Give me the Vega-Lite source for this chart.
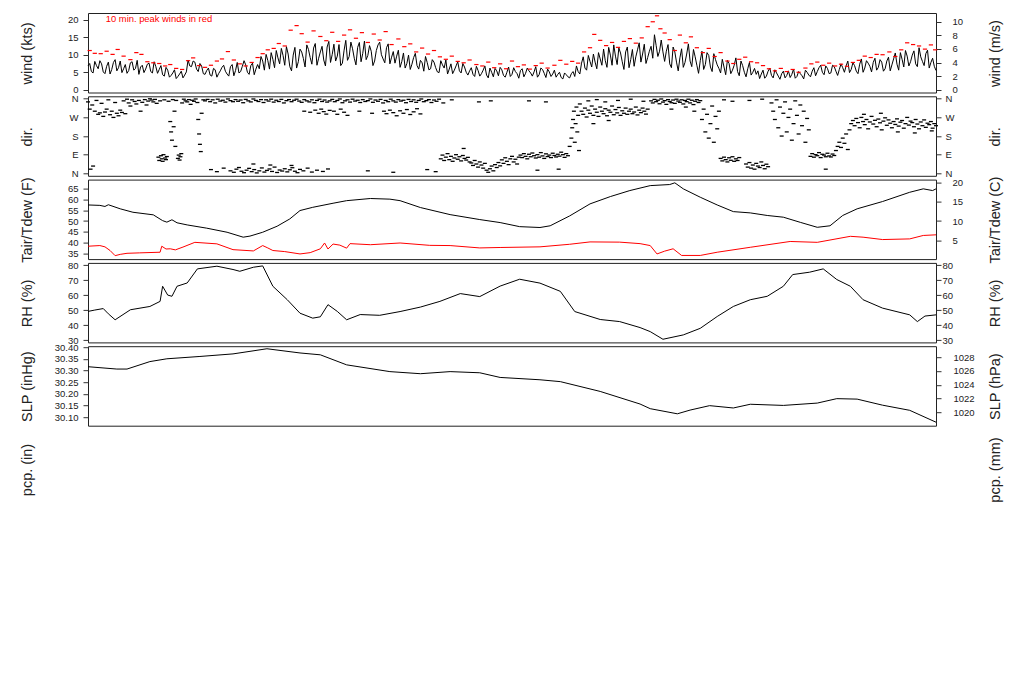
{
"$schema": "https://vega.github.io/schema/vega-lite/v6.json",
"background": "white",
"padding": {"left": 18, "top": 12, "right": 5, "bottom": 5},
"bounds": "flush",
"spacing": 3.3,
"config": {
 "view": {"stroke": "#222", "strokeWidth": 1},
 "axis": {"labelFont": "Liberation Sans", "labelFontSize": 9.5, "labelColor": "#222", "titleFont": "Liberation Sans", "titleFontSize": 14.5, "titleFontWeight": "normal", "titleColor": "#222", "tickColor": "#333", "tickSize": 5, "domain": false, "grid": false, "labelOverlap": false, "labelFlush": false, "titleAngle": 270, "titleBaseline": "middle", "titleAlign": "center", "titleY": 40},
 "axisLeft": {"titleX": -60.5, "labelPadding": 5},
 "axisRight": {"titleX": 59}
},
"datasets": {
"wind": [{"t":0,"v":6.8},{"t":4,"v":5.2},{"t":8,"v":8.1},{"t":12,"v":6.0},{"t":16,"v":7.4},{"t":20,"v":4.6},{"t":24,"v":7.9},{"t":28,"v":5.8},{"t":32,"v":8.6},{"t":36,"v":6.3},{"t":40,"v":4.9},{"t":44,"v":7.2},{"t":48,"v":5.5},{"t":52,"v":8.0},{"t":56,"v":6.1},{"t":60,"v":4.4},{"t":64,"v":7.0},{"t":68,"v":5.9},{"t":72,"v":7.6},{"t":76,"v":4.8},{"t":80,"v":6.6},
{"t":84,"v":5.8},{"t":88,"v":4.3},{"t":92,"v":6.4},{"t":96,"v":3.6},{"t":100,"v":4.8},{"t":104,"v":3.2},{"t":108,"v":4.5},{"t":112,"v":3.4},{"t":116,"v":5.1},{"t":120,"v":6.8},{"t":124,"v":8.2},{"t":128,"v":5.9},{"t":132,"v":7.5},{"t":136,"v":4.6},{"t":140,"v":5.5},
{"t":144,"v":4.2},{"t":148,"v":6.1},{"t":152,"v":3.6},{"t":156,"v":5.4},{"t":160,"v":7.0},{"t":164,"v":4.5},{"t":168,"v":6.6},{"t":172,"v":4.0},{"t":176,"v":7.8},{"t":180,"v":5.2},{"t":184,"v":8.3},{"t":188,"v":5.0},{"t":192,"v":6.9},{"t":196,"v":4.3},
{"t":200,"v":7.2},{"t":204,"v":9.5},{"t":208,"v":5.6},{"t":212,"v":8.4},{"t":216,"v":10.6},{"t":220,"v":6.3},{"t":224,"v":9.1},{"t":228,"v":11.8},{"t":232,"v":7.0},{"t":236,"v":10.2},{"t":240,"v":5.4},{"t":244,"v":12.1},{"t":248,"v":8.0},{"t":252,"v":10.8},{"t":256,"v":6.5},
{"t":260,"v":11.5},{"t":264,"v":7.3},{"t":268,"v":13.2},{"t":272,"v":9.0},{"t":276,"v":12.4},{"t":280,"v":6.8},{"t":284,"v":13.8},{"t":288,"v":10.1},{"t":292,"v":8.2},{"t":296,"v":12.9},{"t":300,"v":7.6},{"t":304,"v":14.1},{"t":308,"v":9.5},{"t":312,"v":11.7},{"t":316,"v":7.1},{"t":320,"v":13.5},{"t":324,"v":10.4},{"t":328,"v":8.6},{"t":332,"v":12.6},{"t":336,"v":6.9},{"t":340,"v":11.2},{"t":344,"v":13.6},{"t":348,"v":8.8},{"t":352,"v":12.0},{"t":356,"v":7.4},{"t":360,"v":10.9},
{"t":364,"v":9.6},{"t":368,"v":6.4},{"t":372,"v":10.5},{"t":376,"v":7.5},{"t":380,"v":5.8},{"t":384,"v":9.2},{"t":388,"v":6.9},{"t":392,"v":8.4},{"t":396,"v":5.3},{"t":400,"v":7.8},{"t":404,"v":6.0},
{"t":408,"v":7.9},{"t":412,"v":5.1},{"t":416,"v":8.3},{"t":420,"v":6.2},{"t":424,"v":4.5},{"t":428,"v":7.4},{"t":432,"v":5.6},{"t":436,"v":8.0},{"t":440,"v":4.8},{"t":444,"v":6.5},
{"t":448,"v":4.2},{"t":452,"v":6.3},{"t":456,"v":3.8},{"t":460,"v":5.5},{"t":464,"v":4.6},{"t":468,"v":6.8},{"t":472,"v":3.4},{"t":476,"v":5.0},{"t":480,"v":6.1},{"t":484,"v":4.0},{"t":488,"v":5.7},{"t":492,"v":3.6},{"t":496,"v":6.5},{"t":500,"v":4.4},{"t":504,"v":5.2},{"t":508,"v":3.3},{"t":512,"v":6.0},{"t":516,"v":4.7},{"t":520,"v":5.4},{"t":524,"v":3.9},{"t":528,"v":6.6},{"t":532,"v":4.3},{"t":536,"v":5.8},{"t":540,"v":3.5},{"t":544,"v":5.1},{"t":548,"v":4.5},
{"t":552,"v":3.6},{"t":556,"v":5.0},{"t":560,"v":3.1},{"t":564,"v":4.3},{"t":568,"v":3.4},{"t":572,"v":5.2},
{"t":576,"v":6.8},{"t":580,"v":4.5},{"t":584,"v":9.4},{"t":588,"v":5.6},{"t":592,"v":8.1},{"t":596,"v":10.2},{"t":600,"v":6.0},{"t":604,"v":8.8},
{"t":608,"v":11.6},{"t":612,"v":6.4},{"t":616,"v":9.9},{"t":620,"v":12.8},{"t":624,"v":7.2},{"t":628,"v":10.5},{"t":632,"v":5.8},{"t":636,"v":12.2},{"t":640,"v":8.6},{"t":644,"v":6.7},{"t":648,"v":11.4},{"t":652,"v":7.9},{"t":656,"v":13.0},{"t":660,"v":9.2},{"t":664,"v":12.4},
{"t":668,"v":15.7},{"t":672,"v":9.5},{"t":676,"v":14.2},
{"t":680,"v":8.1},{"t":684,"v":12.9},{"t":688,"v":6.3},{"t":692,"v":10.8},{"t":696,"v":5.4},{"t":700,"v":11.7},{"t":704,"v":7.8},{"t":708,"v":13.1},{"t":712,"v":6.6},{"t":716,"v":9.4},{"t":720,"v":4.7},{"t":724,"v":11.0},{"t":728,"v":7.2},{"t":732,"v":9.8},{"t":736,"v":5.2},{"t":740,"v":8.6},
{"t":744,"v":6.1},{"t":748,"v":8.7},{"t":752,"v":4.3},{"t":756,"v":7.5},{"t":760,"v":5.6},{"t":764,"v":9.1},{"t":768,"v":4.0},{"t":772,"v":6.9},{"t":776,"v":3.7},{"t":780,"v":7.8},{"t":784,"v":5.0},
{"t":788,"v":4.4},{"t":792,"v":3.2},{"t":796,"v":5.6},{"t":800,"v":3.9},{"t":804,"v":6.2},{"t":808,"v":3.4},{"t":812,"v":4.8},{"t":816,"v":3.0},{"t":820,"v":5.3},{"t":824,"v":4.1},{"t":828,"v":3.5},{"t":832,"v":5.9},{"t":836,"v":3.8},{"t":840,"v":4.6},{"t":844,"v":3.1},{"t":848,"v":5.0},{"t":852,"v":3.7},{"t":856,"v":6.3},
{"t":860,"v":5.2},{"t":864,"v":7.0},{"t":868,"v":4.3},{"t":872,"v":6.1},{"t":876,"v":4.8},{"t":880,"v":6.6},{"t":884,"v":4.1},
{"t":888,"v":7.4},{"t":892,"v":5.0},{"t":896,"v":8.2},{"t":900,"v":5.8},{"t":904,"v":6.9},{"t":908,"v":4.6},{"t":912,"v":8.8},{"t":916,"v":6.2},{"t":920,"v":7.6},{"t":924,"v":5.1},{"t":928,"v":9.0},{"t":932,"v":6.4},{"t":936,"v":7.9},
{"t":940,"v":6.0},{"t":944,"v":9.3},{"t":948,"v":7.1},{"t":952,"v":10.5},{"t":956,"v":5.6},{"t":960,"v":8.7},{"t":964,"v":11.2},{"t":968,"v":6.8},{"t":972,"v":9.9},{"t":976,"v":7.4},{"t":980,"v":12.0},{"t":984,"v":8.1},{"t":988,"v":10.3},{"t":992,"v":6.2},{"t":996,"v":9.0},{"t":1000,"v":5.5},
{"t":2,"v":7.5},{"t":6,"v":4.8},{"t":10,"v":6.9},{"t":14,"v":8.3},{"t":18,"v":5.1},{"t":22,"v":6.7},{"t":26,"v":4.5},{"t":30,"v":7.8},{"t":34,"v":5.4},{"t":38,"v":8.2},{"t":42,"v":6.0},{"t":46,"v":4.7},{"t":50,"v":7.7},{"t":54,"v":5.6},{"t":58,"v":8.4},{"t":62,"v":6.5},{"t":66,"v":4.9},{"t":70,"v":7.3},{"t":74,"v":5.2},{"t":78,"v":8.0},
{"t":82,"v":4.7},{"t":86,"v":6.9},{"t":90,"v":3.9},{"t":94,"v":5.6},{"t":98,"v":4.1},{"t":102,"v":5.7},{"t":106,"v":3.8},{"t":110,"v":5.3},{"t":114,"v":4.2},{"t":118,"v":8.5},{"t":122,"v":6.6},{"t":126,"v":7.9},{"t":130,"v":5.2},{"t":134,"v":6.8},{"t":138,"v":4.4},
{"t":142,"v":6.2},{"t":146,"v":3.9},{"t":150,"v":5.7},{"t":154,"v":4.6},{"t":158,"v":6.4},{"t":162,"v":5.3},{"t":166,"v":3.9},{"t":170,"v":7.2},{"t":174,"v":5.5},{"t":178,"v":4.8},{"t":182,"v":6.7},{"t":186,"v":7.1},{"t":190,"v":4.4},{"t":194,"v":7.6},{"t":198,"v":5.9},
{"t":202,"v":6.0},{"t":206,"v":8.2},{"t":210,"v":10.1},{"t":214,"v":5.9},{"t":218,"v":8.7},{"t":222,"v":11.2},{"t":226,"v":7.4},{"t":230,"v":9.8},{"t":234,"v":12.3},{"t":238,"v":6.6},{"t":242,"v":9.9},{"t":246,"v":6.2},{"t":250,"v":11.6},{"t":254,"v":8.9},{"t":258,"v":12.8},
{"t":262,"v":9.2},{"t":266,"v":11.9},{"t":270,"v":7.0},{"t":274,"v":10.8},{"t":278,"v":8.5},{"t":282,"v":12.2},{"t":286,"v":7.8},{"t":290,"v":13.0},{"t":294,"v":9.6},{"t":298,"v":6.9},{"t":302,"v":11.3},{"t":306,"v":8.4},{"t":310,"v":13.6},{"t":314,"v":9.0},{"t":318,"v":12.1},{"t":322,"v":8.0},{"t":326,"v":13.9},{"t":330,"v":9.8},{"t":334,"v":11.0},{"t":338,"v":8.2},{"t":342,"v":12.8},{"t":346,"v":10.0},{"t":350,"v":7.7},{"t":354,"v":13.1},{"t":358,"v":9.3},
{"t":362,"v":7.6},{"t":366,"v":11.3},{"t":370,"v":8.0},{"t":374,"v":6.2},{"t":378,"v":9.9},{"t":382,"v":7.3},{"t":386,"v":10.4},{"t":390,"v":5.9},{"t":394,"v":7.7},{"t":398,"v":9.5},{"t":402,"v":5.7},{"t":406,"v":8.6},
{"t":410,"v":6.3},{"t":414,"v":4.9},{"t":418,"v":7.1},{"t":422,"v":8.5},{"t":426,"v":5.9},{"t":430,"v":4.6},{"t":434,"v":6.8},{"t":438,"v":5.4},{"t":442,"v":7.5},{"t":446,"v":5.0},
{"t":450,"v":5.4},{"t":454,"v":4.4},{"t":458,"v":6.7},{"t":462,"v":3.9},{"t":466,"v":5.6},{"t":470,"v":4.2},{"t":474,"v":6.2},{"t":478,"v":3.7},{"t":482,"v":5.4},{"t":486,"v":6.4},{"t":490,"v":4.1},{"t":494,"v":5.0},{"t":498,"v":3.8},{"t":502,"v":6.3},{"t":506,"v":4.6},{"t":510,"v":5.5},{"t":514,"v":3.7},{"t":518,"v":6.2},{"t":522,"v":4.8},{"t":526,"v":5.1},{"t":530,"v":3.6},{"t":534,"v":6.2},{"t":538,"v":4.7},{"t":542,"v":5.9},{"t":546,"v":3.8},{"t":550,"v":5.6},
{"t":554,"v":4.4},{"t":558,"v":3.5},{"t":562,"v":4.8},{"t":566,"v":3.7},{"t":570,"v":4.6},{"t":574,"v":3.8},
{"t":578,"v":5.2},{"t":582,"v":7.6},{"t":586,"v":6.2},{"t":590,"v":9.8},{"t":594,"v":6.5},{"t":598,"v":7.9},{"t":602,"v":10.6},{"t":606,"v":7.0},
{"t":610,"v":8.3},{"t":614,"v":12.1},{"t":618,"v":7.0},{"t":622,"v":9.6},{"t":626,"v":11.9},{"t":630,"v":8.0},{"t":634,"v":10.8},{"t":638,"v":6.3},{"t":642,"v":11.5},{"t":646,"v":9.4},{"t":650,"v":13.4},{"t":654,"v":10.2},{"t":658,"v":7.5},{"t":662,"v":11.0},{"t":666,"v":9.0},
{"t":670,"v":12.6},{"t":674,"v":11.0},{"t":678,"v":10.8},
{"t":682,"v":11.0},{"t":686,"v":7.4},{"t":690,"v":12.2},{"t":694,"v":7.9},{"t":698,"v":9.1},{"t":702,"v":6.4},{"t":706,"v":10.2},{"t":710,"v":8.2},{"t":714,"v":11.5},{"t":718,"v":7.0},{"t":722,"v":8.3},{"t":726,"v":5.8},{"t":730,"v":10.6},{"t":734,"v":6.5},{"t":738,"v":10.3},{"t":742,"v":7.1},
{"t":746,"v":4.8},{"t":750,"v":6.5},{"t":754,"v":8.4},{"t":758,"v":4.6},{"t":762,"v":7.0},{"t":766,"v":5.2},{"t":770,"v":8.2},{"t":774,"v":5.0},{"t":778,"v":6.0},{"t":782,"v":4.2},{"t":786,"v":6.1},
{"t":790,"v":5.4},{"t":794,"v":4.5},{"t":798,"v":3.3},{"t":802,"v":5.3},{"t":806,"v":4.1},{"t":810,"v":5.7},{"t":814,"v":3.9},{"t":818,"v":4.6},{"t":822,"v":3.4},{"t":826,"v":5.4},{"t":830,"v":4.4},{"t":834,"v":3.3},{"t":838,"v":5.2},{"t":842,"v":4.0},{"t":846,"v":5.6},{"t":850,"v":4.2},{"t":854,"v":5.3},{"t":858,"v":4.0},
{"t":862,"v":6.3},{"t":866,"v":5.0},{"t":870,"v":6.8},{"t":874,"v":4.6},{"t":878,"v":7.0},{"t":882,"v":5.3},{"t":886,"v":5.8},
{"t":890,"v":6.3},{"t":894,"v":6.8},{"t":898,"v":4.9},{"t":902,"v":7.7},{"t":906,"v":5.3},{"t":910,"v":7.3},{"t":914,"v":5.0},{"t":918,"v":8.3},{"t":922,"v":6.7},{"t":926,"v":7.8},{"t":930,"v":5.6},{"t":934,"v":8.6},{"t":938,"v":5.3},
{"t":942,"v":8.2},{"t":946,"v":5.4},{"t":950,"v":8.8},{"t":954,"v":7.3},{"t":958,"v":10.6},{"t":962,"v":6.5},{"t":966,"v":9.6},{"t":970,"v":8.0},{"t":974,"v":11.1},{"t":978,"v":6.6},{"t":982,"v":9.4},{"t":986,"v":6.9},{"t":990,"v":11.3},{"t":994,"v":7.8},{"t":998,"v":6.7}],
"peak": [{"t":2,"v":11.2},{"t":8,"v":10.4},{"t":15,"v":10.3},{"t":22,"v":11.0},{"t":29,"v":10.1},{"t":35,"v":11.5},{"t":42,"v":9.6},{"t":50,"v":8.6},{"t":57,"v":10.6},{"t":63,"v":10.1},{"t":70,"v":8.0},{"t":77,"v":7.7},{"t":84,"v":7.5},{"t":91,"v":6.8},{"t":97,"v":7.2},{"t":104,"v":6.1},{"t":111,"v":5.8},{"t":118,"v":8.3},{"t":124,"v":9.1},{"t":131,"v":6.9},{"t":138,"v":6.4},{"t":145,"v":7.0},{"t":152,"v":8.2},{"t":158,"v":8.8},{"t":165,"v":10.9},{"t":172,"v":8.5},{"t":179,"v":7.4},{"t":186,"v":6.8},{"t":193,"v":7.8},{"t":200,"v":9.2},{"t":206,"v":10.3},{"t":212,"v":11.4},{"t":219,"v":11.8},{"t":225,"v":13.2},{"t":232,"v":12.5},{"t":239,"v":17.0},{"t":246,"v":18.3},{"t":252,"v":16.0},{"t":259,"v":13.6},{"t":266,"v":16.8},{"t":274,"v":15.2},{"t":281,"v":14.0},{"t":288,"v":16.4},{"t":295,"v":13.8},{"t":302,"v":15.6},{"t":309,"v":17.1},{"t":316,"v":14.7},{"t":323,"v":16.3},{"t":330,"v":13.5},{"t":337,"v":15.9},{"t":344,"v":14.2},{"t":351,"v":16.6},{"t":358,"v":12.9},{"t":366,"v":14.5},{"t":373,"v":12.3},{"t":380,"v":13.1},{"t":387,"v":10.8},{"t":394,"v":11.9},{"t":401,"v":10.2},{"t":408,"v":11.2},{"t":415,"v":9.4},{"t":422,"v":8.7},{"t":429,"v":9.6},{"t":436,"v":8.1},{"t":443,"v":7.7},{"t":450,"v":8.5},{"t":458,"v":7.2},{"t":465,"v":6.8},{"t":472,"v":7.9},{"t":479,"v":6.3},{"t":486,"v":7.4},{"t":493,"v":6.0},{"t":500,"v":8.2},{"t":507,"v":6.6},{"t":514,"v":7.1},{"t":521,"v":5.9},{"t":528,"v":6.9},{"t":535,"v":7.6},{"t":542,"v":6.2},{"t":550,"v":7.0},{"t":557,"v":8.4},{"t":564,"v":7.3},{"t":571,"v":8.1},{"t":578,"v":7.6},{"t":585,"v":10.8},{"t":592,"v":12.0},{"t":597,"v":15.8},{"t":604,"v":14.1},{"t":611,"v":12.6},{"t":618,"v":13.5},{"t":625,"v":12.1},{"t":632,"v":13.8},{"t":639,"v":14.6},{"t":646,"v":13.3},{"t":653,"v":14.8},{"t":660,"v":18.0},{"t":666,"v":19.4},{"t":671,"v":21.1},{"t":675,"v":17.4},{"t":680,"v":16.2},{"t":686,"v":14.3},{"t":692,"v":11.2},{"t":698,"v":15.6},{"t":705,"v":13.4},{"t":711,"v":15.1},{"t":718,"v":12.0},{"t":725,"v":10.6},{"t":732,"v":11.8},{"t":739,"v":9.5},{"t":746,"v":10.6},{"t":754,"v":8.2},{"t":761,"v":7.5},{"t":768,"v":8.7},{"t":775,"v":9.3},{"t":782,"v":8.0},{"t":789,"v":7.7},{"t":796,"v":6.9},{"t":803,"v":6.0},{"t":810,"v":5.4},{"t":817,"v":6.1},{"t":824,"v":5.2},{"t":831,"v":5.8},{"t":838,"v":5.0},{"t":846,"v":6.2},{"t":853,"v":7.4},{"t":860,"v":7.9},{"t":867,"v":7.0},{"t":874,"v":7.6},{"t":881,"v":6.8},{"t":888,"v":7.3},{"t":895,"v":6.7},{"t":902,"v":7.8},{"t":909,"v":8.4},{"t":916,"v":9.6},{"t":923,"v":9.2},{"t":930,"v":10.1},{"t":937,"v":10.0},{"t":945,"v":10.8},{"t":952,"v":9.5},{"t":959,"v":11.4},{"t":966,"v":13.4},{"t":973,"v":12.9},{"t":980,"v":12.5},{"t":987,"v":11.6},{"t":994,"v":12.8},{"t":999,"v":11.4}],
"note": [{"t":21,"v":20.3,"label":"10 min. peak winds in red"}],
"dir": [{"t":0,"d":345},{"t":3,"d":20},{"t":5,"d":330},{"t":8,"d":300},{"t":10,"d":352},{"t":12,"d":285},{"t":14,"d":292},{"t":16,"d":338},{"t":18,"d":275},{"t":20,"d":296},{"t":22,"d":310},{"t":24,"d":355},{"t":26,"d":283},{"t":28,"d":300},{"t":30,"d":270},{"t":32,"d":342},{"t":34,"d":290},{"t":36,"d":278},{"t":38,"d":305},{"t":40,"d":294},{"t":42,"d":350},{"t":44,"d":288},{"t":46,"d":358},{"t":48,"d":340},{"t":50,"d":325},{"t":52,"d":355},{"t":55,"d":347},{"t":57,"d":335},{"t":60,"d":352},{"t":62,"d":300},{"t":64,"d":343},{"t":67,"d":356},{"t":69,"d":330},{"t":71,"d":349},{"t":73,"d":360},{"t":6,"d":35},{"t":2,"d":310},
{"t":75,"d":354},{"t":77,"d":345},{"t":79,"d":357},{"t":81,"d":338},{"t":83,"d":78},{"t":84,"d":62},{"t":85,"d":350},{"t":86,"d":85},{"t":87,"d":70},{"t":88,"d":58},{"t":89,"d":90},{"t":90,"d":355},{"t":91,"d":74},{"t":92,"d":66},{"t":93,"d":81},{"t":95,"d":348},{"t":97,"d":250},{"t":98,"d":200},{"t":99,"d":160},{"t":100,"d":356},{"t":101,"d":225},{"t":102,"d":300},{"t":103,"d":130},{"t":104,"d":352},{"t":106,"d":72},{"t":107,"d":88},{"t":108,"d":64},{"t":109,"d":80},{"t":110,"d":95},{"t":111,"d":340},{"t":113,"d":358},{"t":115,"d":350},{"t":117,"d":345},{"t":119,"d":356},{"t":121,"d":333},{"t":123,"d":353},{"t":125,"d":348},{"t":127,"d":359},{"t":129,"d":342},{"t":130,"d":260},{"t":131,"d":190},{"t":132,"d":140},{"t":133,"d":105},{"t":134,"d":290},{"t":136,"d":355},
{"t":138,"d":350},{"t":141,"d":357},{"t":144,"d":346},{"t":147,"d":355},{"t":150,"d":340},{"t":153,"d":358},{"t":156,"d":349},{"t":159,"d":353},{"t":162,"d":344},{"t":165,"d":359},{"t":168,"d":351},{"t":171,"d":346},{"t":174,"d":356},{"t":177,"d":348},{"t":180,"d":354},{"t":183,"d":341},{"t":186,"d":357},{"t":189,"d":350},{"t":192,"d":345},{"t":195,"d":359},{"t":198,"d":352},{"t":201,"d":347},{"t":204,"d":356},{"t":207,"d":342},{"t":210,"d":355},{"t":213,"d":349},{"t":216,"d":358},{"t":219,"d":344},{"t":222,"d":353},{"t":225,"d":347},{"t":228,"d":357},{"t":231,"d":340},{"t":234,"d":351},{"t":237,"d":356},{"t":240,"d":346},{"t":243,"d":353},{"t":246,"d":358},{"t":249,"d":349},{"t":252,"d":343},{"t":255,"d":356},{"t":258,"d":350},{"t":261,"d":345},{"t":264,"d":355},{"t":267,"d":341},{"t":270,"d":352},{"t":273,"d":358},{"t":276,"d":347},{"t":279,"d":354},{"t":282,"d":344},{"t":285,"d":350},
{"t":145,"d":18},{"t":152,"d":8},{"t":160,"d":25},{"t":168,"d":12},{"t":172,"d":5},{"t":175,"d":20},{"t":178,"d":28},{"t":181,"d":10},{"t":184,"d":3},{"t":187,"d":15},{"t":190,"d":24},{"t":193,"d":8},{"t":196,"d":18},{"t":199,"d":2},{"t":202,"d":12},{"t":205,"d":26},{"t":208,"d":6},{"t":211,"d":14},{"t":214,"d":21},{"t":217,"d":9},{"t":220,"d":30},{"t":223,"d":4},{"t":226,"d":16},{"t":229,"d":11},{"t":232,"d":22},{"t":235,"d":7},{"t":238,"d":17},{"t":241,"d":27},{"t":244,"d":10},{"t":247,"d":3},{"t":250,"d":19},{"t":254,"d":12},{"t":259,"d":25},{"t":264,"d":6},{"t":270,"d":15},{"t":277,"d":9},{"t":283,"d":21},{"t":195,"d":45},{"t":215,"d":40},{"t":240,"d":38},
{"t":255,"d":300},{"t":262,"d":295},{"t":268,"d":305},{"t":272,"d":290},{"t":275,"d":310},{"t":278,"d":298},{"t":281,"d":286},{"t":285,"d":304},
{"t":288,"d":357},{"t":291,"d":346},{"t":294,"d":352},{"t":297,"d":359},{"t":300,"d":341},{"t":303,"d":350},{"t":306,"d":355},{"t":309,"d":344},{"t":312,"d":358},{"t":315,"d":349},{"t":318,"d":353},{"t":321,"d":342},{"t":324,"d":356},{"t":327,"d":347},{"t":330,"d":351},{"t":333,"d":359},{"t":336,"d":343},{"t":339,"d":354},{"t":342,"d":348},{"t":345,"d":357},{"t":348,"d":340},{"t":351,"d":352},{"t":354,"d":346},{"t":357,"d":358},{"t":360,"d":350},{"t":363,"d":344},{"t":366,"d":356},{"t":369,"d":349},{"t":372,"d":353},{"t":375,"d":341},{"t":378,"d":357},{"t":381,"d":347},{"t":384,"d":355},{"t":387,"d":343},{"t":390,"d":352},{"t":393,"d":359},{"t":396,"d":346},{"t":399,"d":351},{"t":402,"d":356},{"t":405,"d":342},{"t":408,"d":354},{"t":411,"d":348},{"t":414,"d":358},
{"t":290,"d":300},{"t":294,"d":285},{"t":298,"d":310},{"t":302,"d":295},{"t":306,"d":280},{"t":349,"d":300},{"t":352,"d":288},{"t":356,"d":305},{"t":360,"d":293},{"t":364,"d":278},{"t":368,"d":302},{"t":372,"d":290},{"t":376,"d":308},{"t":380,"d":284},{"t":384,"d":297},{"t":388,"d":312},{"t":392,"d":287},{"t":320,"d":300},{"t":335,"d":290},{"t":330,"d":12},{"t":360,"d":5},{"t":400,"d":18},{"t":410,"d":8},
{"t":416,"d":70},{"t":418,"d":88},{"t":420,"d":62},{"t":422,"d":78},{"t":424,"d":95},{"t":426,"d":66},{"t":428,"d":82},{"t":430,"d":58},{"t":432,"d":74},{"t":434,"d":90},{"t":436,"d":68},{"t":438,"d":80},{"t":440,"d":60},{"t":442,"d":86},{"t":444,"d":72},{"t":446,"d":64},{"t":448,"d":77},{"t":450,"d":55},{"t":419,"d":340},{"t":429,"d":355},{"t":443,"d":120},
{"t":452,"d":50},{"t":454,"d":38},{"t":456,"d":62},{"t":458,"d":45},{"t":460,"d":30},{"t":462,"d":55},{"t":464,"d":40},{"t":466,"d":25},{"t":468,"d":48},{"t":470,"d":15},{"t":472,"d":5},{"t":474,"d":22},{"t":476,"d":35},{"t":478,"d":12},{"t":480,"d":42},{"t":482,"d":28},{"t":484,"d":52},{"t":486,"d":36},{"t":461,"d":345},{"t":475,"d":350},
{"t":488,"d":65},{"t":490,"d":48},{"t":492,"d":75},{"t":494,"d":58},{"t":496,"d":42},{"t":498,"d":70},{"t":500,"d":82},{"t":502,"d":55},{"t":504,"d":68},{"t":506,"d":45},{"t":508,"d":78},
{"t":510,"d":88},{"t":512,"d":76},{"t":514,"d":95},{"t":516,"d":82},{"t":518,"d":70},{"t":520,"d":92},{"t":522,"d":80},{"t":524,"d":98},{"t":526,"d":85},{"t":528,"d":74},{"t":530,"d":90},{"t":532,"d":78},{"t":534,"d":100},{"t":536,"d":84},{"t":538,"d":72},{"t":540,"d":94},{"t":542,"d":81},{"t":544,"d":88},{"t":546,"d":76},{"t":548,"d":97},{"t":550,"d":86},{"t":552,"d":79},{"t":554,"d":92},{"t":556,"d":83},{"t":558,"d":102},{"t":560,"d":90},{"t":562,"d":77},{"t":564,"d":95},{"t":566,"d":85},{"t":520,"d":350},{"t":540,"d":345},{"t":555,"d":20},{"t":530,"d":15},
{"t":568,"d":130},{"t":570,"d":170},{"t":571,"d":220},{"t":572,"d":260},{"t":573,"d":300},{"t":574,"d":150},{"t":575,"d":240},{"t":576,"d":320},{"t":577,"d":200},{"t":578,"d":280},{"t":579,"d":110},{"t":580,"d":335},
{"t":582,"d":300},{"t":584,"d":285},{"t":586,"d":315},{"t":588,"d":272},{"t":590,"d":305},{"t":592,"d":290},{"t":594,"d":325},{"t":596,"d":280},{"t":598,"d":310},{"t":600,"d":295},{"t":602,"d":275},{"t":604,"d":320},{"t":606,"d":300},{"t":608,"d":288},{"t":610,"d":312},{"t":612,"d":278},{"t":614,"d":305},{"t":616,"d":295},{"t":618,"d":325},{"t":620,"d":283},{"t":622,"d":308},{"t":624,"d":292},{"t":626,"d":318},{"t":628,"d":280},{"t":630,"d":302},{"t":632,"d":290},{"t":634,"d":315},{"t":636,"d":285},{"t":638,"d":300},{"t":640,"d":310},{"t":642,"d":288},{"t":644,"d":296},{"t":646,"d":320},{"t":648,"d":282},{"t":650,"d":305},{"t":652,"d":293},{"t":654,"d":315},{"t":656,"d":300},{"t":658,"d":286},{"t":660,"d":310},{"t":590,"d":350},{"t":600,"d":356},{"t":610,"d":345},{"t":625,"d":352},{"t":640,"d":358},{"t":655,"d":348},{"t":596,"d":240},{"t":614,"d":255},
{"t":664,"d":350},{"t":666,"d":340},{"t":668,"d":357},{"t":670,"d":346},{"t":672,"d":353},{"t":674,"d":336},{"t":676,"d":359},{"t":678,"d":344},{"t":680,"d":351},{"t":682,"d":333},{"t":684,"d":356},{"t":686,"d":347},{"t":688,"d":341},{"t":690,"d":354},{"t":692,"d":338},{"t":694,"d":358},{"t":696,"d":349},{"t":698,"d":343},{"t":700,"d":355},{"t":702,"d":335},{"t":704,"d":352},{"t":706,"d":346},{"t":708,"d":358},{"t":710,"d":340},{"t":712,"d":353},{"t":714,"d":332},{"t":716,"d":348},{"t":718,"d":356},{"t":720,"d":342},{"t":722,"d":351},{"t":688,"d":310},{"t":705,"d":320},{"t":715,"d":300},
{"t":724,"d":260},{"t":726,"d":310},{"t":728,"d":200},{"t":730,"d":285},{"t":732,"d":170},{"t":734,"d":240},{"t":736,"d":325},{"t":738,"d":150},{"t":740,"d":275},{"t":742,"d":215},{"t":744,"d":300},
{"t":746,"d":72},{"t":748,"d":60},{"t":750,"d":78},{"t":752,"d":66},{"t":754,"d":55},{"t":756,"d":75},{"t":758,"d":63},{"t":760,"d":80},{"t":762,"d":58},{"t":764,"d":70},{"t":766,"d":62},{"t":768,"d":76},{"t":750,"d":355},{"t":760,"d":348},
{"t":776,"d":45},{"t":778,"d":30},{"t":780,"d":52},{"t":782,"d":25},{"t":784,"d":40},{"t":786,"d":20},{"t":788,"d":48},{"t":790,"d":35},{"t":792,"d":28},{"t":794,"d":55},{"t":796,"d":38},{"t":798,"d":22},{"t":800,"d":44},{"t":802,"d":32},{"t":780,"d":352},{"t":795,"d":358},
{"t":806,"d":340},{"t":808,"d":300},{"t":810,"d":260},{"t":812,"d":355},{"t":814,"d":220},{"t":816,"d":320},{"t":818,"d":180},{"t":820,"d":290},{"t":822,"d":345},{"t":824,"d":200},{"t":826,"d":270},{"t":828,"d":310},{"t":830,"d":160},{"t":832,"d":240},{"t":834,"d":350},{"t":836,"d":280},{"t":838,"d":190},{"t":840,"d":330},{"t":842,"d":230},{"t":844,"d":300},{"t":846,"d":150},{"t":848,"d":265},{"t":850,"d":210},
{"t":852,"d":82},{"t":854,"d":95},{"t":856,"d":78},{"t":858,"d":90},{"t":860,"d":85},{"t":862,"d":100},{"t":864,"d":76},{"t":866,"d":92},{"t":868,"d":88},{"t":870,"d":80},{"t":872,"d":97},{"t":874,"d":84},{"t":876,"d":79},{"t":878,"d":93},{"t":880,"d":86},{"t":882,"d":110},{"t":884,"d":130},{"t":886,"d":150},{"t":888,"d":125},{"t":890,"d":170},{"t":892,"d":145},{"t":894,"d":190},{"t":896,"d":115},{"t":898,"d":210},{"t":870,"d":20},
{"t":900,"d":240},{"t":902,"d":255},{"t":904,"d":230},{"t":906,"d":265},{"t":908,"d":245},{"t":910,"d":220},{"t":912,"d":270},{"t":914,"d":250},{"t":916,"d":235},{"t":918,"d":260},{"t":920,"d":215},{"t":922,"d":248},{"t":924,"d":275},{"t":926,"d":238},{"t":928,"d":256},{"t":930,"d":225},{"t":932,"d":262},{"t":934,"d":244},{"t":936,"d":210},{"t":938,"d":252},{"t":940,"d":268},{"t":942,"d":232},{"t":944,"d":258},{"t":946,"d":242},{"t":948,"d":220},{"t":950,"d":250},{"t":952,"d":236},{"t":954,"d":263},{"t":956,"d":228},{"t":958,"d":247},{"t":960,"d":255},{"t":962,"d":218},{"t":964,"d":240},{"t":966,"d":270},{"t":968,"d":233},{"t":970,"d":252},{"t":972,"d":245},{"t":974,"d":225},{"t":976,"d":260},{"t":978,"d":238},{"t":980,"d":215},{"t":982,"d":248},{"t":984,"d":230},{"t":986,"d":258},{"t":988,"d":222},{"t":990,"d":242},{"t":992,"d":235},{"t":994,"d":250},{"t":996,"d":218},{"t":998,"d":240},{"t":1000,"d":230},{"t":915,"d":285},{"t":935,"d":290},{"t":955,"d":200},{"t":975,"d":195},{"t":995,"d":205}],
"tair": [{"t":0,"v":57.5},{"t":14,"v":57.3},{"t":20,"v":56.8},{"t":24,"v":57.6},{"t":38,"v":55.7},{"t":53,"v":54.1},{"t":77,"v":52.9},{"t":88,"v":50.2},{"t":93,"v":49.5},{"t":99,"v":50.6},{"t":105,"v":49.2},{"t":117,"v":48.2},{"t":140,"v":46.7},{"t":164,"v":44.8},{"t":183,"v":42.5},{"t":191,"v":43.0},{"t":206,"v":44.8},{"t":223,"v":47.6},{"t":238,"v":51.0},{"t":250,"v":54.9},{"t":265,"v":56.4},{"t":289,"v":58.3},{"t":305,"v":59.5},{"t":333,"v":60.5},{"t":356,"v":60.2},{"t":368,"v":59.5},{"t":392,"v":56.3},{"t":427,"v":53.0},{"t":462,"v":50.7},{"t":486,"v":49.3},{"t":509,"v":47.4},{"t":533,"v":47.0},{"t":545,"v":47.8},{"t":568,"v":52.4},{"t":592,"v":58.0},{"t":616,"v":61.4},{"t":639,"v":64.2},{"t":663,"v":66.5},{"t":686,"v":67.0},{"t":692,"v":67.8},{"t":702,"v":65.0},{"t":722,"v":61.1},{"t":742,"v":57.5},{"t":761,"v":54.4},{"t":781,"v":53.8},{"t":801,"v":52.6},{"t":820,"v":51.8},{"t":840,"v":49.4},{"t":860,"v":47.1},{"t":875,"v":47.8},{"t":890,"v":52.6},{"t":907,"v":55.7},{"t":937,"v":59.1},{"t":969,"v":63.4},{"t":985,"v":65.0},{"t":996,"v":64.2},{"t":1000,"v":65.0}],
"tdew": [{"t":0,"v":38.3},{"t":14,"v":38.6},{"t":20,"v":38.0},{"t":26,"v":36.3},{"t":32,"v":33.9},{"t":38,"v":34.5},{"t":46,"v":35.0},{"t":61,"v":35.2},{"t":85,"v":35.5},{"t":87,"v":38.3},{"t":92,"v":37.0},{"t":97,"v":37.1},{"t":103,"v":36.6},{"t":112,"v":37.9},{"t":126,"v":40.1},{"t":152,"v":39.4},{"t":171,"v":36.7},{"t":195,"v":36.1},{"t":206,"v":38.6},{"t":212,"v":37.5},{"t":218,"v":36.3},{"t":232,"v":35.8},{"t":250,"v":34.7},{"t":262,"v":35.3},{"t":274,"v":37.1},{"t":279,"v":39.8},{"t":283,"v":37.0},{"t":289,"v":39.3},{"t":297,"v":38.8},{"t":305,"v":37.4},{"t":309,"v":39.5},{"t":333,"v":39.0},{"t":368,"v":39.8},{"t":403,"v":38.7},{"t":427,"v":38.6},{"t":462,"v":37.5},{"t":486,"v":37.7},{"t":533,"v":38.0},{"t":568,"v":39.2},{"t":592,"v":40.3},{"t":627,"v":40.2},{"t":651,"v":39.5},{"t":663,"v":38.6},{"t":671,"v":34.7},{"t":680,"v":36.0},{"t":690,"v":37.1},{"t":700,"v":34.0},{"t":722,"v":34.0},{"t":742,"v":35.5},{"t":781,"v":37.8},{"t":828,"v":40.5},{"t":860,"v":40.1},{"t":899,"v":42.9},{"t":914,"v":42.5},{"t":937,"v":41.4},{"t":969,"v":41.7},{"t":985,"v":43.3},{"t":1000,"v":43.6}],
"rh": [{"t":0,"v":49.1},{"t":8,"v":50.0},{"t":18,"v":51.0},{"t":24,"v":47.5},{"t":32,"v":43.5},{"t":50,"v":50.2},{"t":73,"v":52.4},{"t":85,"v":55.8},{"t":88,"v":65.9},{"t":94,"v":60.0},{"t":99,"v":59.2},{"t":105,"v":65.9},{"t":117,"v":68.1},{"t":129,"v":77.5},{"t":152,"v":79.3},{"t":171,"v":77.1},{"t":179,"v":75.9},{"t":195,"v":78.6},{"t":206,"v":79.5},{"t":218,"v":65.9},{"t":235,"v":56.9},{"t":250,"v":47.9},{"t":265,"v":44.6},{"t":274,"v":45.5},{"t":283,"v":53.6},{"t":294,"v":49.1},{"t":305,"v":43.5},{"t":321,"v":47.0},{"t":344,"v":46.5},{"t":368,"v":49.0},{"t":392,"v":52.0},{"t":415,"v":55.8},{"t":439,"v":61.0},{"t":462,"v":59.0},{"t":486,"v":66.0},{"t":509,"v":70.6},{"t":533,"v":68.0},{"t":557,"v":62.5},{"t":574,"v":49.0},{"t":604,"v":43.7},{"t":627,"v":42.3},{"t":651,"v":38.3},{"t":663,"v":35.6},{"t":678,"v":30.5},{"t":702,"v":33.4},{"t":722,"v":37.8},{"t":742,"v":45.7},{"t":761,"v":52.4},{"t":781,"v":56.9},{"t":801,"v":59.2},{"t":820,"v":65.9},{"t":831,"v":73.7},{"t":851,"v":75.3},{"t":867,"v":77.5},{"t":883,"v":70.4},{"t":899,"v":65.9},{"t":914,"v":56.9},{"t":937,"v":51.3},{"t":969,"v":46.8},{"t":978,"v":42.3},{"t":987,"v":46.0},{"t":1000,"v":46.8}],
"slp": [{"t":0,"v":30.316},{"t":34,"v":30.306},{"t":46,"v":30.306},{"t":73,"v":30.338},{"t":93,"v":30.350},{"t":132,"v":30.360},{"t":171,"v":30.371},{"t":211,"v":30.393},{"t":250,"v":30.375},{"t":274,"v":30.367},{"t":305,"v":30.324},{"t":356,"v":30.295},{"t":392,"v":30.286},{"t":427,"v":30.295},{"t":462,"v":30.290},{"t":486,"v":30.270},{"t":533,"v":30.260},{"t":557,"v":30.252},{"t":604,"v":30.210},{"t":651,"v":30.156},{"t":663,"v":30.136},{"t":695,"v":30.114},{"t":710,"v":30.130},{"t":733,"v":30.149},{"t":761,"v":30.139},{"t":781,"v":30.155},{"t":820,"v":30.150},{"t":860,"v":30.160},{"t":883,"v":30.179},{"t":907,"v":30.177},{"t":937,"v":30.151},{"t":969,"v":30.129},{"t":1000,"v":30.078}]
},
"vconcat": [
{
 "width": 848, "height": 79.5,
 "layer": [
  {"layer": [
   {"data": {"name": "wind"}, "mark": {"type": "line", "color": "#000", "strokeWidth": 1},
    "encoding": {"x": {"field": "t", "type": "quantitative", "scale": {"domain": [0, 1000], "nice": false, "zero": false}, "axis": null},
     "y": {"field": "v", "type": "quantitative", "scale": {"domain": [-0.77, 21.9], "nice": false, "zero": false}, "axis": {"title": "wind (kts)", "values": [0, 5, 10, 15, 20]}}}},
   {"data": {"name": "peak"}, "mark": {"type": "point", "shape": "M-1,0L1,0", "filled": false, "stroke": "#ff0000", "strokeWidth": 1.2, "size": 18, "opacity": 1},
    "encoding": {"x": {"field": "t", "type": "quantitative", "axis": null}, "y": {"field": "v", "type": "quantitative", "axis": {"title": "wind (kts)", "values": [0, 5, 10, 15, 20]}}}},
   {"data": {"name": "note"}, "mark": {"type": "text", "align": "left", "baseline": "middle", "color": "#ff0000", "fontSize": 9.4, "font": "Liberation Sans"},
    "encoding": {"x": {"field": "t", "type": "quantitative", "axis": null}, "y": {"field": "v", "type": "quantitative", "axis": {"title": "wind (kts)", "values": [0, 5, 10, 15, 20]}}, "text": {"field": "label"}}}
  ]},
  {"data": {"values": [{}]}, "mark": {"type": "rule", "opacity": 0},
   "encoding": {"y": {"datum": 0, "type": "quantitative", "scale": {"domain": [-0.396, 11.265], "nice": false, "zero": false}, "axis": {"orient": "right", "title": "wind (m/s)", "values": [0, 2, 4, 6, 8, 10], "labelPadding": 11}}}}
 ],
 "resolve": {"scale": {"y": "independent"}, "axis": {"y": "independent"}}
},
{
 "width": 848, "height": 79.5,
 "layer": [
  {"data": {"name": "dir"}, "mark": {"type": "point", "shape": "M-1,0L1,0", "filled": false, "stroke": "#000", "strokeWidth": 1.3, "size": 16, "opacity": 1},
   "encoding": {"x": {"field": "t", "type": "quantitative", "scale": {"domain": [0, 1000], "nice": false, "zero": false}, "axis": null},
    "y": {"field": "d", "type": "quantitative", "scale": {"domain": [-12, 372], "nice": false, "zero": false}, "axis": {"title": "dir.", "values": [0, 90, 180, 270, 360], "labelExpr": "datum.value == 90 ? 'E' : datum.value == 180 ? 'S' : datum.value == 270 ? 'W' : 'N'"}}}},
  {"data": {"values": [{}]}, "mark": {"type": "rule", "opacity": 0},
   "encoding": {"y": {"datum": 0, "type": "quantitative", "scale": {"domain": [-12, 372], "nice": false, "zero": false}, "axis": {"orient": "right", "title": "dir.", "values": [0, 90, 180, 270, 360], "labelPadding": 4, "labelExpr": "datum.value == 90 ? 'E' : datum.value == 180 ? 'S' : datum.value == 270 ? 'W' : 'N'"}}}}
 ],
 "resolve": {"scale": {"y": "independent"}, "axis": {"y": "independent"}}
},
{
 "width": 848, "height": 79.5,
 "layer": [
  {"layer": [
   {"data": {"name": "tair"}, "mark": {"type": "line", "color": "#000", "strokeWidth": 1},
    "encoding": {"x": {"field": "t", "type": "quantitative", "scale": {"domain": [0, 1000], "nice": false, "zero": false}, "axis": null},
     "y": {"field": "v", "type": "quantitative", "scale": {"domain": [32.3, 69.3], "nice": false, "zero": false}, "axis": {"title": "Tair/Tdew (F)", "values": [35, 40, 45, 50, 55, 60, 65]}}}},
   {"data": {"name": "tdew"}, "mark": {"type": "line", "color": "#ff0000", "strokeWidth": 1},
    "encoding": {"x": {"field": "t", "type": "quantitative", "axis": null}, "y": {"field": "v", "type": "quantitative", "axis": {"title": "Tair/Tdew (F)", "values": [35, 40, 45, 50, 55, 60, 65]}}}}
  ]},
  {"data": {"values": [{}]}, "mark": {"type": "rule", "opacity": 0},
   "encoding": {"y": {"datum": 5, "type": "quantitative", "scale": {"domain": [0.167, 20.722], "nice": false, "zero": false}, "axis": {"orient": "right", "title": "Tair/Tdew (C)", "values": [5, 10, 15, 20], "labelPadding": 11}}}}
 ],
 "resolve": {"scale": {"y": "independent"}, "axis": {"y": "independent"}}
},
{
 "width": 848, "height": 79.5,
 "layer": [
  {"data": {"name": "rh"}, "mark": {"type": "line", "color": "#000", "strokeWidth": 1},
   "encoding": {"x": {"field": "t", "type": "quantitative", "scale": {"domain": [0, 1000], "nice": false, "zero": false}, "axis": null},
    "y": {"field": "v", "type": "quantitative", "scale": {"domain": [28.4, 81.5], "nice": false, "zero": false}, "axis": {"title": "RH (%)", "values": [30, 40, 50, 60, 70, 80]}}}},
  {"data": {"values": [{}]}, "mark": {"type": "rule", "opacity": 0},
   "encoding": {"y": {"datum": 50, "type": "quantitative", "scale": {"domain": [28.4, 81.5], "nice": false, "zero": false}, "axis": {"orient": "right", "title": "RH (%)", "values": [30, 40, 50, 60, 70, 80], "labelPadding": 1}}}}
 ],
 "resolve": {"scale": {"y": "independent"}, "axis": {"y": "independent"}}
},
{
 "width": 848, "height": 79.5,
 "layer": [
  {"data": {"name": "slp"}, "mark": {"type": "line", "color": "#000", "strokeWidth": 1},
   "encoding": {"x": {"field": "t", "type": "quantitative", "scale": {"domain": [0, 1000], "nice": false, "zero": false}, "axis": null},
    "y": {"field": "v", "type": "quantitative", "scale": {"domain": [30.063, 30.404], "nice": false, "zero": false}, "axis": {"title": "SLP (inHg)", "values": [30.1, 30.15, 30.2, 30.25, 30.3, 30.35, 30.4], "format": ".2f"}}}},
  {"data": {"values": [{}]}, "mark": {"type": "rule", "opacity": 0},
   "encoding": {"y": {"datum": 1020, "type": "quantitative", "scale": {"domain": [1018.05, 1029.6], "nice": false, "zero": false}, "axis": {"orient": "right", "title": "SLP (hPa)", "values": [1020, 1022, 1024, 1026, 1028], "format": "d", "labelPadding": 12}}}}
 ],
 "resolve": {"scale": {"y": "independent"}, "axis": {"y": "independent"}}
},
{
 "width": 848, "height": 80,
 "view": {"stroke": null},
 "layer": [
  {"data": {"values": [{}]}, "mark": {"type": "rule", "opacity": 0},
   "encoding": {"y": {"datum": 0, "type": "quantitative", "scale": {"domain": [0, 1]}, "axis": {"title": "pcp. (in)", "ticks": false, "labels": false}}}},
  {"data": {"values": [{}]}, "mark": {"type": "rule", "opacity": 0},
   "encoding": {"y": {"datum": 0, "type": "quantitative", "scale": {"domain": [0, 1]}, "axis": {"orient": "right", "title": "pcp. (mm)", "ticks": false, "labels": false}}}}
 ],
 "resolve": {"scale": {"y": "independent"}, "axis": {"y": "independent"}}
}
]
}
